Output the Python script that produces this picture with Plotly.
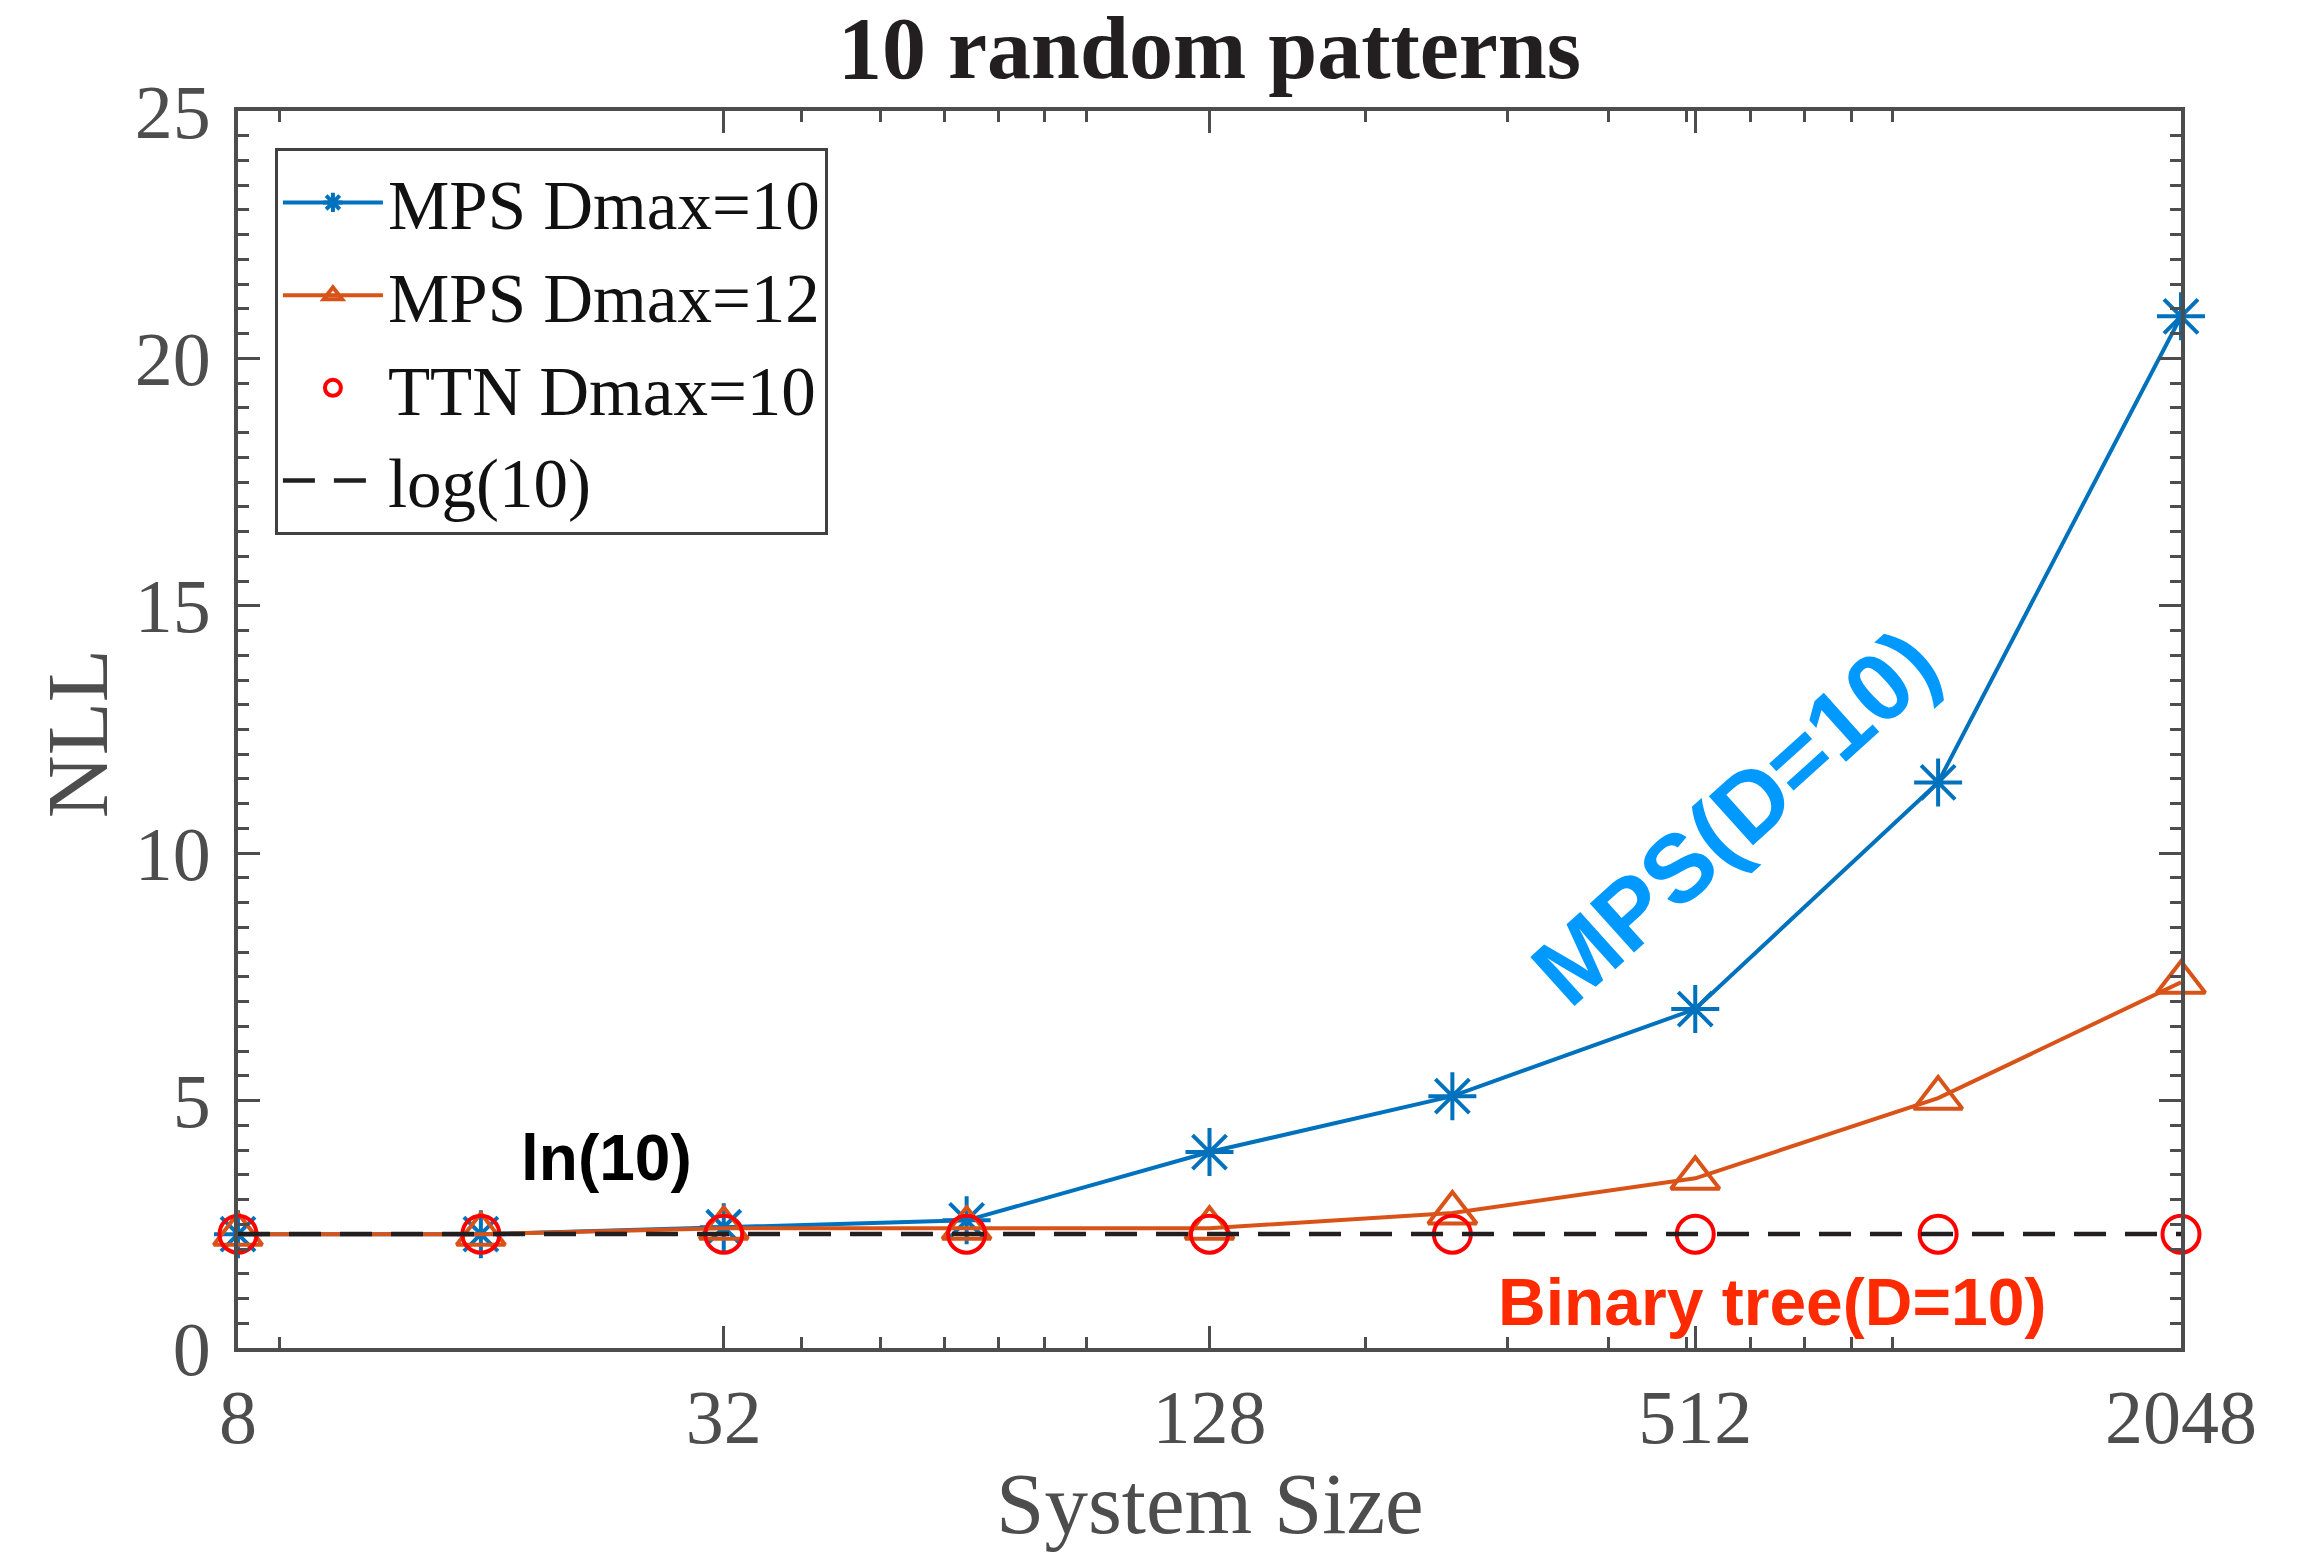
import math
import plotly.graph_objects as go

# ---------------- data ----------------
SIZES = [8, 16, 32, 64, 128, 256, 512, 1024, 2048]
MPS_D10 = [2.30, 2.30, 2.44, 2.58, 3.96, 5.09, 6.85, 11.43, 20.85]
MPS_D12 = [2.30, 2.30, 2.42, 2.42, 2.42, 2.73, 3.43, 5.05, 7.39]
TTN_D10 = [2.30, 2.30, 2.30, 2.30, 2.30, 2.30, 2.30, 2.30, 2.30]
LOG10_X = [8, 2048]
LOG10_Y = [2.3026, 2.3026]

X_TICKS = [8, 32, 128, 512, 2048]
X_TICKTEXT = ["8", "32", "128", "512", "2048"]
X_MINOR = [9, 40, 50, 60, 70, 80, 90, 200, 300, 400, 500, 600, 700, 800, 900]
Y_TICKS = [0, 5, 10, 15, 20, 25]

SERIF = "Liberation Serif, Times New Roman, serif"
SANS = "Liberation Sans, Arial, sans-serif"
AXC = "#4D4D4D"

fig = go.Figure()
fig.add_trace(go.Scatter(
    x=SIZES, y=MPS_D10, name="MPS Dmax=10", mode="lines+markers", cliponaxis=False,
    line=dict(color="#0072BD", width=4),
    marker=dict(symbol="asterisk-open", size=40, color="#0072BD",
                line=dict(color="#0072BD", width=4))))
fig.add_trace(go.Scatter(
    x=SIZES, y=MPS_D12, name="MPS Dmax=12", mode="lines+markers", cliponaxis=False,
    line=dict(color="#D95319", width=4),
    marker=dict(symbol="triangle-up-open", size=42, color="#D95319",
                line=dict(color="#D95319", width=4))))
fig.add_trace(go.Scatter(
    x=SIZES, y=TTN_D10, name="TTN Dmax=10", mode="markers", cliponaxis=False,
    marker=dict(symbol="circle-open", size=37, color="#FF0000",
                line=dict(color="#FF0000", width=4))))
fig.add_trace(go.Scatter(
    x=LOG10_X, y=LOG10_Y, name="log(10)", mode="lines",
    line=dict(color="#231F20", width=4.5, dash="32px,19px")))

fig.update_layout(
    width=2320, height=1555,
    margin=dict(l=238, r=139, t=111, b=207),
    paper_bgcolor="white", plot_bgcolor="white",
    title=dict(text="10 random patterns", x=0.5, xref="paper", xanchor="center",
               y=1 - 47 / 1555, yref="container", yanchor="middle",
               font=dict(family=SERIF, size=88, color="#231F20", weight="bold")),
    showlegend=True,
    legend=dict(x=0.019, y=0.97, xanchor="left", yanchor="top",
                bgcolor="white", bordercolor="#404040", borderwidth=3,
                font=dict(family=SERIF, size=69, color="#111111"),
                itemwidth=100, tracegroupgap=0),
)

fig.update_xaxes(
    type="log", range=[math.log10(8) - 1e-6, math.log10(2048) + 1e-6],
    tickmode="array", tickvals=X_TICKS, ticktext=X_TICKTEXT,
    ticks="inside", ticklen=22, tickwidth=3, tickcolor=AXC,
    minor=dict(tickmode="array", tickvals=X_MINOR, ticks="inside",
               ticklen=11, tickwidth=3, tickcolor=AXC, showgrid=False),
    showline=True, linecolor=AXC, linewidth=4, mirror="allticks",
    showgrid=False, zeroline=False,
    tickfont=dict(family=SERIF, size=76, color=AXC),
    ticklabelstandoff=0,
    automargin=False,
)
fig.update_yaxes(
    range=[0, 25], tickmode="array", tickvals=Y_TICKS,
    ticks="inside", ticklen=22, tickwidth=3, tickcolor=AXC,
    minor=dict(dtick=0.5, ticks="inside", ticklen=11, tickwidth=3,
               tickcolor=AXC, showgrid=False),
    showline=True, linecolor=AXC, linewidth=4, mirror="allticks",
    showgrid=False, zeroline=False,
    tickfont=dict(family=SERIF, size=76, color=AXC),
    ticklabelstandoff=8,
    automargin=False,
)

# axis titles
fig.add_annotation(text="System Size", xref="paper", yref="paper", x=0.5, y=-0.126,
                   showarrow=False, xanchor="center", yanchor="middle",
                   font=dict(family=SERIF, size=87, color=AXC))
fig.add_annotation(text="NLL", xref="paper", yref="paper", x=-0.0829, y=0.497,
                   showarrow=False, xanchor="center", yanchor="middle", textangle=-90,
                   font=dict(family=SERIF, size=87, color=AXC))

# in-plot labels
fig.add_annotation(text="ln(10)", xref="paper", yref="paper", x=0.1894, y=0.1536,
                   showarrow=False, xanchor="center", yanchor="middle",
                   font=dict(family=SANS, size=64, color="#000000", weight="bold"))
fig.add_annotation(text="Binary tree(D=10)", xref="paper", yref="paper", x=0.7895, y=0.0372,
                   showarrow=False, xanchor="center", yanchor="middle",
                   font=dict(family=SANS, size=66, color="#FF2A00", weight="bold"))
fig.add_annotation(text="MPS(D=10)", xref="paper", yref="paper", x=0.7705, y=0.4293,
                   showarrow=False, xanchor="center", yanchor="middle", textangle=-42,
                   font=dict(family=SANS, size=96, color="#0099FF", weight="bold"))

fig.write_html("out.html")
